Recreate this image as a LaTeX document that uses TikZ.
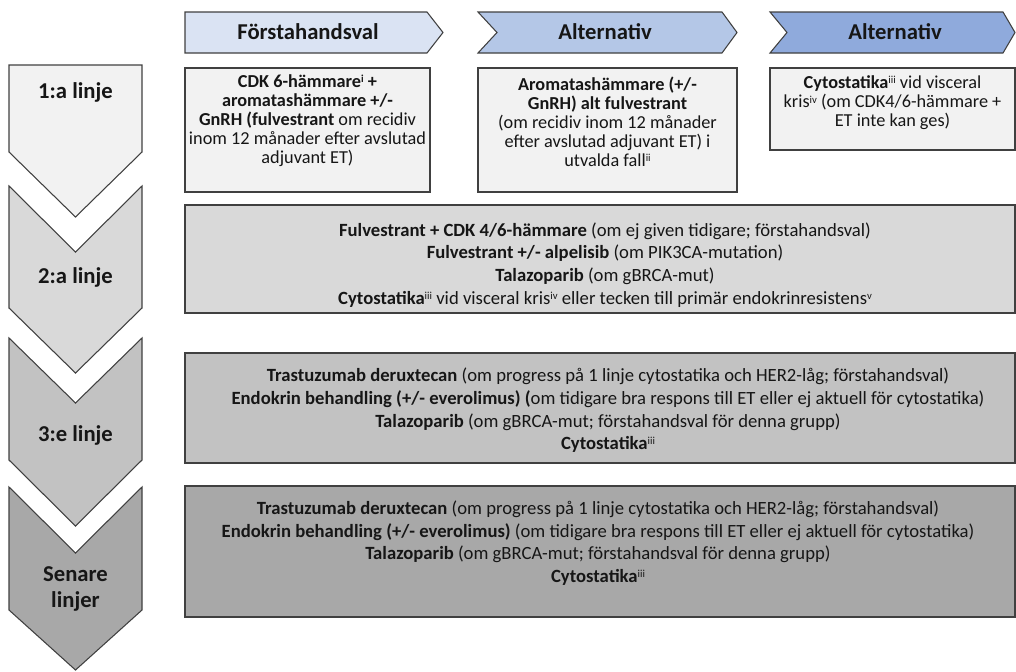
\documentclass[tikz,border=0pt]{standalone}
\usepackage{fontspec}
\setmainfont{Carlito}
\definecolor{bordercol}{HTML}{404040}
\definecolor{txtcol}{HTML}{161616}
\definecolor{hA}{HTML}{DAE3F3}
\definecolor{hB}{HTML}{B4C7E7}
\definecolor{hC}{HTML}{8FAADC}
\definecolor{gA}{HTML}{F2F2F2}
\definecolor{gB}{HTML}{D9D9D9}
\definecolor{gC}{HTML}{C2C2C2}
\definecolor{gD}{HTML}{A8A8A8}
\newcommand{\supmark}[1]{\smash{\raisebox{0.55ex}{\fontsize{8}{8}\selectfont #1}}}
\tikzset{
  chev/.style={draw=bordercol, line width=0.8pt, line join=miter},
  hdr/.style={draw=bordercol, line width=0.8pt, line join=miter},
  panel/.style={draw=bordercol, line width=1.1pt},
  lbl/.style={font=\fontsize{17}{20}\selectfont\bfseries, text=txtcol, align=center, inner sep=0pt},
  firsttxt/.style={font=\fontsize{13.7}{14.3}\selectfont, text=txtcol, align=center, inner sep=0pt},
  rowtxt/.style={font=\fontsize{14}{17}\selectfont, text=txtcol, align=center, inner sep=0pt},
}
\begin{document}
\begin{tikzpicture}[x=0.75pt,y=-0.75pt]
\useasboundingbox (0,0) rectangle (1016,671);
% left chevrons
\path[chev, fill=gA] (9,65) -- (142,65) -- (142,152) -- (75.5,217) -- (9,152) -- cycle;
\path[chev, fill=gB] (9,186) -- (75.5,252) -- (142,186) -- (142,308) -- (75.5,373) -- (9,308) -- cycle;
\path[chev, fill=gC] (9,338) -- (75.5,403) -- (142,338) -- (142,460) -- (75.5,526) -- (9,460) -- cycle;
\path[chev, fill=gD] (9,487) -- (75.5,553) -- (142,487) -- (142,610) -- (75.5,670) -- (9,610) -- cycle;
\node[lbl] (l1) at (75.5,92) {1:a linje};
\node[lbl] (l2) at (75.5,277) {2:a linje};
\node[lbl] (l3) at (75.5,435) {3:e linje};
\node[lbl] (l4) at (75.5,589) {Senare\\linjer};
% header arrows
\path[hdr, fill=hA] (185,12) -- (427,12) -- (443,32.5) -- (427,53) -- (185,53) -- cycle;
\path[hdr, fill=hB] (478,12) -- (722,12) -- (737,32.5) -- (722,53) -- (478,53) -- (497,32.5) -- cycle;
\path[hdr, fill=hC] (770,12) -- (1003,12) -- (1015,32.5) -- (1003,53) -- (770,53) -- (787,32.5) -- cycle;
\node[lbl] (h1) at (308,32) {Förstahandsval};
\node[lbl] (h2) at (605,32) {Alternativ};
\node[lbl] (h3) at (895,32) {Alternativ};
% row 1 boxes
\path[panel, fill=gA] (185,68) rectangle (430,192);
\path[panel, fill=gA] (478,68) rectangle (737,192);
\path[panel, fill=gA] (770,68) rectangle (1015,150);
\node[firsttxt] (a1) at (307.5,121) {\textbf{CDK 6-hämmare\supmark{i} +}\\\textbf{aromatashämmare +/-}\\\textbf{GnRH (fulvestrant} om recidiv\\inom 12 månader efter avslutad\\adjuvant ET)};
\node[firsttxt] (a2) at (607.5,121.5) {\textbf{Aromatashämmare (+/-}\\\textbf{GnRH) alt fulvestrant}\\(om recidiv inom 12 månader\\efter avslutad adjuvant ET) i\\utvalda fall\supmark{ii}};
\node[firsttxt] (a3) at (892.5,103) {\textbf{Cytostatika}\supmark{iii} vid visceral\\kris\supmark{iv} (om CDK4/6-hämmare +\\ET inte kan ges)};
% row 2
\path[panel, fill=gB] (185,205) rectangle (1015,313);
\node[rowtxt] (b1) at (605,265) {\textbf{Fulvestrant + CDK 4/6-hämmare} (om ej given tidigare; förstahandsval)\\\textbf{Fulvestrant +/- alpelisib} (om PIK3CA-mutation)\\\textbf{Talazoparib} (om gBRCA-mut)\\\textbf{Cytostatika}\supmark{iii} vid visceral kris\supmark{iv} eller tecken till primär endokrinresistens\supmark{v}};
% row 3
\path[panel, fill=gC] (185,353) rectangle (1015,463);
\node[rowtxt] (c1) at (608,410.5) {\textbf{Trastuzumab deruxtecan} (om progress på 1 linje cytostatika och HER2-låg; förstahandsval)\\\textbf{Endokrin behandling (+/- everolimus) (}om tidigare bra respons till ET eller ej aktuell för cytostatika)\\\textbf{Talazoparib} (om gBRCA-mut; förstahandsval för denna grupp)\\\textbf{Cytostatika}\supmark{iii}};
% row 4
\path[panel, fill=gD] (185,486) rectangle (1015,617);
\node[rowtxt] (d1) at (598,543) {\textbf{Trastuzumab deruxtecan} (om progress på 1 linje cytostatika och HER2-låg; förstahandsval)\\\textbf{Endokrin behandling (+/- everolimus)} (om tidigare bra respons till ET eller ej aktuell för cytostatika)\\\textbf{Talazoparib} (om gBRCA-mut; förstahandsval för denna grupp)\\\textbf{Cytostatika}\supmark{iii}};
\end{tikzpicture}
\end{document}
